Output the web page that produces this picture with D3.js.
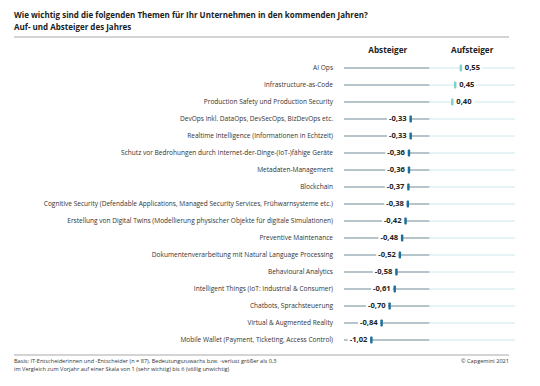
<!DOCTYPE html>
<html>
<head>
<meta charset="utf-8">
<script src="https://cdn.jsdelivr.net/npm/d3@7"></script>
<style>
  body { margin: 0; background: #fff; }
  text { font-family: "Open Sans", "Noto Sans", sans-serif; }
</style>
</head>
<body>
<div id="chart"></div>
<script>
var width = 540,
    height = 386;

var topics = [
  "AI Ops",
  "Infrastructure-as-Code",
  "Production Safety und Production Security",
  "DevOps inkl. DataOps, DevSecOps, BizDevOps etc.",
  "Realtime Intelligence (Informationen in Echtzeit)",
  "Schutz vor Bedrohungen durch Internet-der-Dinge-(IoT-)fähige Geräte",
  "Metadaten-Management",
  "Blockchain",
  "Cognitive Security (Defendable Applications, Managed Security Services, Frühwarnsysteme etc.)",
  "Erstellung von Digital Twins (Modellierung physischer Objekte für digitale Simulationen)",
  "Preventive Maintenance",
  "Dokumentenverarbeitung mit Natural Language Processing",
  "Behavioural Analytics",
  "Intelligent Things (IoT: Industrial & Consumer)",
  "Chatbots, Sprachsteuerung",
  "Virtual & Augmented Reality",
  "Mobile Wallet (Payment, Ticketing, Access Control)"
];
var change = [0.55, 0.45, 0.40, -0.33, -0.33, -0.36, -0.36, -0.37, -0.38, -0.42,
              -0.48, -0.52, -0.58, -0.61, -0.70, -0.84, -1.02];
var columns = ["Absteiger", "Aufsteiger"];

var svg = d3.select("#chart").append("svg")
    .attr("width", width)
    .attr("height", height);

var x = d3.scaleLinear().domain([-1.5, 1.5]).range([344, 515]);
var y = d3.scalePoint().domain(topics).range([68, 340]);

// title
svg.append("text").attr("x", 14).attr("y", 18)
    .attr("font-size", 8).attr("font-weight", "bold").attr("fill", "#222")
    .text("Wie wichtig sind die folgenden Themen für Ihr Unternehmen in den kommenden Jahren?");
svg.append("text").attr("x", 14).attr("y", 30)
    .attr("font-size", 8).attr("font-weight", "bold").attr("fill", "#222")
    .text("Auf- und Absteiger des Jahres");

svg.append("line").attr("x1", 14).attr("x2", 509).attr("y1", 37).attr("y2", 37)
    .attr("stroke", "#aaa").attr("stroke-width", 1.2);
svg.append("line").attr("x1", 14).attr("x2", 509).attr("y1", 355).attr("y2", 355)
    .attr("stroke", "#aaa").attr("stroke-width", 1.2);

// column headers
svg.selectAll(".head").data(columns).enter().append("text")
    .attr("x", function(d, i) { return i == 0 ? (x(-1.5) + x(0)) / 2 + 1 : (x(0) + x(1.5)) / 2; })
    .attr("y", 53)
    .attr("text-anchor", "middle")
    .attr("font-size", 8.2).attr("font-weight", "bold").attr("fill", "#222")
    .text(function(d) { return d; });

var rows = svg.selectAll(".row").data(topics).enter().append("g")
    .attr("transform", function(d) { return "translate(0," + y(d) + ")"; });

rows.append("text")
    .attr("x", 333)
    .attr("text-anchor", "end")
    .attr("dominant-baseline", "middle")
    .attr("font-size", 6.55).attr("fill", "#333")
    .text(function(d) { return d; });

rows.append("line")
    .attr("x1", x(-1.5)).attr("x2", x(0))
    .attr("stroke", "#6f8a97").attr("stroke-width", 1);
rows.append("line")
    .attr("x1", x(0)).attr("x2", x(1.5))
    .attr("stroke", "#cde8ec").attr("stroke-width", 1);

function fmt(v) { return v.toFixed(2).replace(".", ","); }

rows.each(function(d, i) {
  var g = d3.select(this);
  var v = change[i];
  var pos = v > 0;
  var t = g.append("text")
      .attr("x", pos ? x(v) + 4 : x(v) - 4)
      .attr("text-anchor", pos ? "start" : "end")
      .attr("dominant-baseline", "middle")
      .attr("font-size", 7.6).attr("font-weight", "bold").attr("fill", "#222")
      .text(fmt(v));
  var bb = t.node().getBBox();
  g.insert("rect", "text:last-of-type")
      .attr("x", bb.x - 2).attr("y", -4)
      .attr("width", bb.width + 4).attr("height", 8)
      .attr("fill", "#fff");
  g.append("rect")
      .attr("x", x(v) - 1.2).attr("y", -3.6)
      .attr("width", 2.4).attr("height", 7.2)
      .attr("rx", 0.8)
      .attr("fill", pos ? "#80d0cf" : "#1b6f98");
});

// footer
svg.append("text").attr("x", 14).attr("y", 363)
    .attr("font-size", 5.6).attr("fill", "#333")
    .text("Basis: IT-Entscheiderinnen und -Entscheider (n = 87), Bedeutungszuwachs bzw. -verlust größer als 0,3");
svg.append("text").attr("x", 14).attr("y", 371)
    .attr("font-size", 5.6).attr("fill", "#333")
    .text("im Vergleich zum Vorjahr auf einer Skala von 1 (sehr wichtig) bis 6 (völlig unwichtig)");
svg.append("text").attr("x", 509).attr("y", 363)
    .attr("text-anchor", "end")
    .attr("font-size", 5.6).attr("fill", "#333")
    .text("© Capgemini 2021");
</script>
</body>
</html>
